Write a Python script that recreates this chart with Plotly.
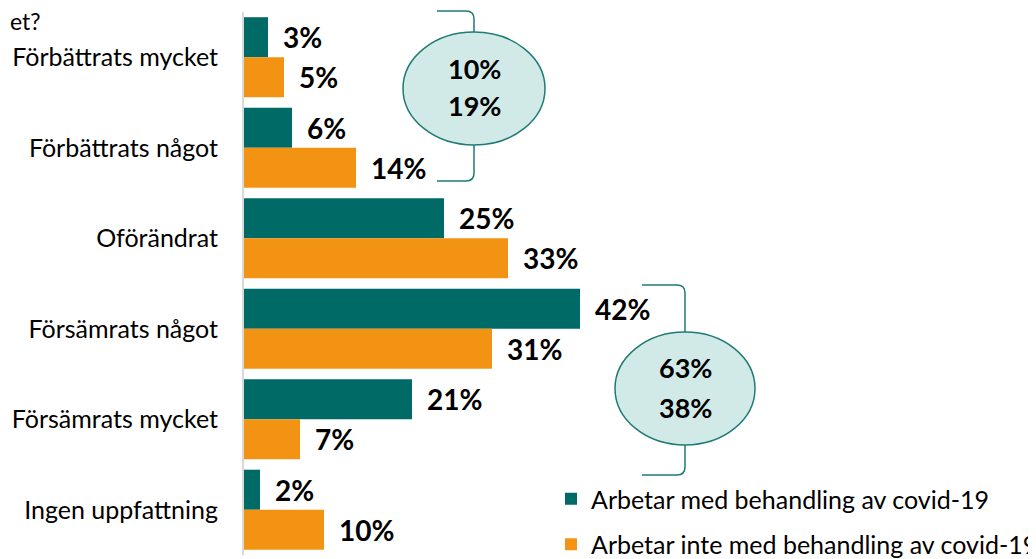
import plotly.graph_objects as go

categories = ["Förbättrats mycket", "Förbättrats något", "Oförändrat",
              "Försämrats något", "Försämrats mycket", "Ingen uppfattning"]
series_names = ["Arbetar med behandling av covid-19",
                "Arbetar inte med behandling av covid-19"]
vals_med = [3, 6, 25, 42, 21, 2]
vals_inte = [5, 14, 33, 31, 7, 10]
sum_better = ["10%", "19%"]
sum_worse = ["63%", "38%"]

TEAL = "#006A66"
ORANGE = "#F39314"
EDGE = "#1E7B76"
FILL = "#D2EAE7"
FONT = "Lato"

# page body has an 8px margin; layout is planned in window (screen) pixels
OFF = 8
W, H = 1036, 559
L, R, T, B = 236, 8, 4, 12
PW, PH = W - L - R, H - T - B


def px(xs):
    return (xs - OFF - L) / PW


def py(ys):
    return (H - B - (ys - OFF)) / PH


fig = go.Figure()
for name, vals, col in [(series_names[0], vals_med, TEAL),
                        (series_names[1], vals_inte, ORANGE)]:
    fig.add_trace(go.Bar(y=categories, x=vals, orientation="h", name=name,
                         marker=dict(color=col, line=dict(width=0)),
                         legendgroup=name))

annotations = []
for vals, ys in [(vals_med, 20), (vals_inte, -20)]:
    for c, v in zip(categories, vals):
        annotations.append(dict(x=v, y=c, xref="x", yref="y", text=f"{v}%",
                                showarrow=False, xanchor="left", yanchor="middle",
                                xshift=13, yshift=ys,
                                font=dict(family=FONT, size=28, color="black", weight="bold")))

shapes = []
for (x0, y0, x1, y1) in [(403, 32, 545, 145), (615, 332, 755, 445)]:
    shapes.append(dict(type="circle", xref="paper", yref="paper",
                       x0=px(x0), x1=px(x1), y0=py(y1), y1=py(y0),
                       fillcolor=FILL, line=dict(color=EDGE, width=1.5), layer="above"))


def bracket(xl, xc, ytop, ye1, ye2, ybot, r=8):
    p = (f"M {px(xl)},{py(ytop)} L {px(xc - r)},{py(ytop)} "
         f"Q {px(xc)},{py(ytop)} {px(xc)},{py(ytop + r)} L {px(xc)},{py(ye1)} "
         f"M {px(xc)},{py(ye2)} L {px(xc)},{py(ybot - r)} "
         f"Q {px(xc)},{py(ybot)} {px(xc - r)},{py(ybot)} L {px(xl)},{py(ybot)}")
    return dict(type="path", xref="paper", yref="paper", path=p,
                line=dict(color=EDGE, width=1.5), layer="above")


shapes.append(bracket(437, 474, 11, 32, 145, 181))
shapes.append(bracket(642, 685, 285, 332, 445, 475))

for (cx, cy), t in zip([(474, 69), (474, 105)], sum_better):
    annotations.append(dict(x=px(cx), y=py(cy), xref="paper", yref="paper", text=t,
                            showarrow=False, xanchor="center", yanchor="middle",
                            font=dict(family=FONT, size=27, color="black", weight="bold")))
for (cx, cy), t in zip([(685, 367), (685, 407)], sum_worse):
    annotations.append(dict(x=px(cx), y=py(cy), xref="paper", yref="paper", text=t,
                            showarrow=False, xanchor="center", yanchor="middle",
                            font=dict(family=FONT, size=27, color="black", weight="bold")))

annotations.append(dict(x=px(OFF), y=py(5), xref="paper", yref="paper", text="et?",
                        showarrow=False, xanchor="left", yanchor="top",
                        font=dict(family=FONT, size=23, color="black")))

fig.update_layout(
    width=W, height=H,
    margin=dict(l=L, r=R, t=T, b=B, autoexpand=False),
    paper_bgcolor="white", plot_bgcolor="white",
    barmode="group", bargap=0.115, bargroupgap=0,
    font=dict(family=FONT, size=25, color="black"),
    xaxis=dict(range=[0, 99], showticklabels=False, showgrid=False, automargin=False,
               zeroline=False, showline=False, fixedrange=True),
    yaxis=dict(autorange="reversed", showline=True, linecolor="#D9D9D9", linewidth=2,
               ticks="", showgrid=False, ticklabelstandoff=19, automargin=False,
               tickfont=dict(family=FONT, size=25, color="black")),
    legend=dict(x=px(551), y=py(476), xanchor="left", yanchor="top",
                bgcolor="rgba(0,0,0,0)", font=dict(family=FONT, size=25, color="black"),
                traceorder="grouped", tracegroupgap=10),
    showlegend=True,
    shapes=shapes, annotations=annotations,
)

fig.write_html("out.html")
